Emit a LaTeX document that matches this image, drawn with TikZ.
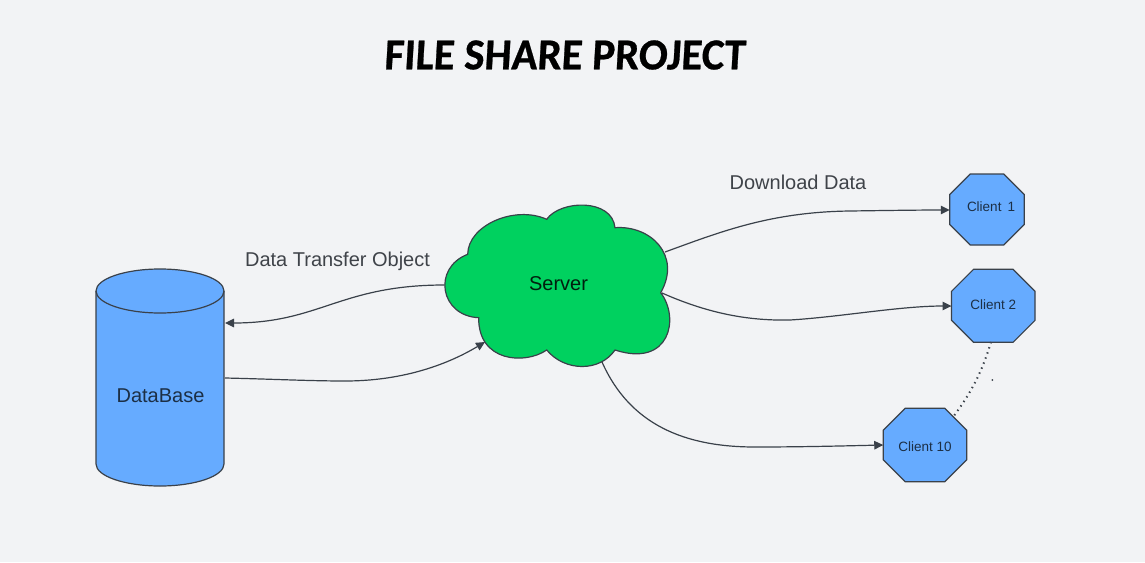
\documentclass[tikz,border=0pt]{standalone}
\usepackage{fontspec}
\setmainfont{Liberation Sans}
\usetikzlibrary{arrows.meta,shapes.misc}
\definecolor{bg}{HTML}{F2F3F5}
\definecolor{bluefill}{HTML}{66ABFF}
\definecolor{greenfill}{HTML}{00D15F}
\definecolor{ink}{HTML}{3A414A}
\definecolor{labelc}{HTML}{3F4349}
\definecolor{clientc}{HTML}{1C2F45}
\tikzset{
  x=1pt,y=-1pt,
  link/.style={draw=ink,line width=1.2pt,-{Triangle[length=9pt,width=8.5pt]}},
  client/.style={chamfered rectangle,draw=ink,fill=bluefill,line width=1.2pt,text=clientc,
    font=\fontsize{13.5}{15}\selectfont,inner sep=0pt,outer sep=0pt,
    minimum width=#1,chamfered rectangle xsep=25pt,chamfered rectangle ysep=22pt},
  caption/.style={text=labelc,font=\fontsize{20}{24}\selectfont,inner sep=0pt},
}
\begin{document}
\begin{tikzpicture}
\useasboundingbox (0,0) rectangle (1145,562);
\fill[bg] (0,0) rectangle (1145,562);
% title
\node[inner sep=0pt] (title) at (564.5,55) {\resizebox{361pt}{29pt}{\fontspec{Carlito}[FakeSlant=0.06,FakeBold=0.6]\bfseries FILE SHARE PROJECT}};
% database
\draw[draw=ink,fill=bluefill,line width=1.2pt]
  (96,291) -- (96,464) arc[start angle=180,end angle=360,x radius=64,y radius=-22]
  -- (224,291) arc[start angle=0,end angle=180,x radius=64,y radius=-22] -- cycle;
\draw[draw=ink,line width=1.2pt] (96,291) arc[start angle=180,end angle=360,x radius=64,y radius=-22];
\node[text=clientc,font=\fontsize{20}{24}\selectfont,inner sep=0pt] (dbl) at (160.5,395.5) {DataBase};
% server cloud
\draw[draw=ink,fill=greenfill,line width=1.2pt]
  (467.7,254.3) .. controls (468,225) and (515,205) .. (546.7,219.3)
  .. controls (560,200) and (612,198) .. (615,227.7)
  .. controls (650,225) and (682,255) .. (660.7,292.7)
  .. controls (680,318) and (670,368) .. (615,350)
  .. controls (600,372) and (565,372) .. (546.7,350)
  .. controls (525,365) and (478,362) .. (478.7,317.7)
  .. controls (440,316) and (432,268) .. (467.7,254.3) -- cycle;
\node[text=black!85!greenfill,font=\fontsize{20}{24}\selectfont,inner sep=0pt] (server) at (558.5,284) {Server};
% clients
\node[client=74.5pt,minimum height=71pt,chamfered rectangle xsep=21.5pt,chamfered rectangle ysep=20.5pt] (c1) at (987,209.5) {\hspace{8pt}\raisebox{-2pt}[0pt][0pt]{Client\hspace{6pt}1}};
\node[client=83.5pt,minimum height=73pt] (c2) at (993.3,305.8) {\raisebox{-3.2pt}[0pt][0pt]{Client 2}};
\node[client=83.5pt,minimum height=73.5pt] (c10) at (925,445) {\raisebox{-6pt}[0pt][0pt]{Client 10}};
% connector ends on the shapes
\coordinate (dbin) at (225,323);
\coordinate (dbout) at (225,378);
\coordinate (sl) at (444.5,285);
\coordinate (sa) at (485,342);
\coordinate (s1) at (665,252);
\coordinate (s2) at (662,293);
\coordinate (s3) at (602,362);
\coordinate (c2b) at (991,342);
\coordinate (c10t) at (953,417);
% connectors
\draw[link] (sl) .. controls (340,285) and (320,323) .. (dbin);
\draw[link] (dbout) .. controls (270,379) and (310,381) .. (345,381) .. controls (400,381) and (445,366) .. (sa);
\draw[link] (s1) .. controls (720,232) and (770,212) .. (850,211) .. controls (885,210.5) and (920,210) .. (c1.west |- 0,210);
\draw[link] (s2) .. controls (705,312) and (745,321) .. (790,320) .. controls (840,317) and (900,306) .. (c2.west |- 0,306);
\draw[link] (s3) .. controls (630,425) and (685,447) .. (755,447) .. controls (800,447) and (840,446) .. (c10.west);
\draw[draw=ink,line width=2pt,dash pattern=on 1.4pt off 4pt] (c2b) .. controls (984,365) and (975,388) .. (c10t);
\fill[ink] (992.3,380) circle (1pt);
% labels
\node[caption] (lab1) at (337.5,261) {Data Transfer Object};
\node[caption] (lab2) at (798,182.5) {Download Data};
\end{tikzpicture}
\end{document}
